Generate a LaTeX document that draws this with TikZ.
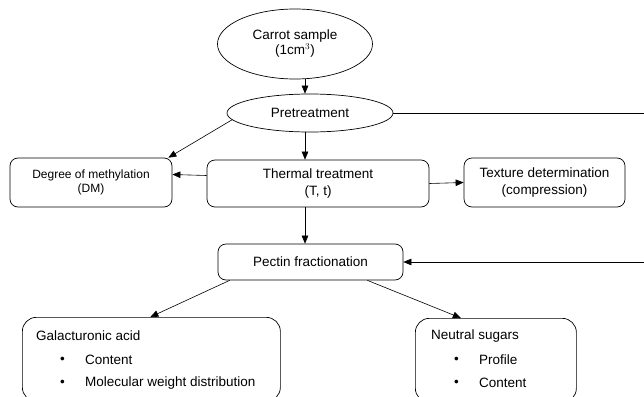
\documentclass[tikz,border=0pt]{standalone}
\usepackage{fontspec}
\setmainfont{Liberation Sans}
\usepackage{tikz}
\usetikzlibrary{
  arrows.meta,
  positioning,
  shapes.geometric
}
\tikzset{
  ovalbox/.style={draw, ellipse, line width=0.7pt, inner sep=0pt,
    align=center, font=\fontsize{13.5}{15}\selectfont},
  stepbox/.style={draw, rounded corners=8pt, line width=0.7pt,
    inner sep=0pt, align=center, font=\fontsize{13.5}{16.5}\selectfont},
  listbox/.style={draw, rounded corners=14pt, line width=0.7pt,
    inner sep=0pt, anchor=north west},
  itemtext/.style={anchor=west, inner sep=0pt, font=\fontsize{13.5}{15}\selectfont},
  arr/.style={-{Triangle[length=8pt, width=6.5pt]}, line width=0.6pt},
  ln/.style={line width=0.6pt},
}

\begin{document}
\begin{tikzpicture}[x=1pt, y=-1pt]
  \useasboundingbox (0,0) rectangle (644,396);

  % Sample and pretreatment
  \node[ovalbox, minimum width=155pt, minimum height=70pt] (carrot) at (295,44)
    {Carrot sample\\(1cm$^3$)};
  \node[ovalbox, minimum width=166pt, minimum height=38pt] (pre) at (310,113)
    {Pretreatment};
  \coordinate (spine) at (305,0);

  % Treatments
  \node[stepbox, minimum width=162pt, minimum height=49pt,
    font=\fontsize{12}{13.5}\selectfont] (dm) at (91,182.5)
    {Degree of methylation\\(DM)};
  \node[stepbox, minimum width=222pt, minimum height=47pt] (thermal) at (318,183.5)
    {Thermal treatment\\(T, t)};
  \node[stepbox, minimum width=161pt, minimum height=49pt] (texture) at (544.5,182.5)
    {Texture determination\\(compression)};
  \node[stepbox, minimum width=185pt, minimum height=36pt] (pectin) at (310.5,262)
    {Pectin fractionation};

  % Fractions
  \node[listbox, minimum width=258pt, minimum height=84pt] (gala) at (22,317) {};
  \node[itemtext] (galaTitle) at (36,336) {Galacturonic acid};
  \node[itemtext] (galaB1) at (60,360) {\textbullet};
  \node[itemtext] (galaI1) at (85,360) {Content};
  \node[itemtext] (galaB2) at (60,383) {\textbullet};
  \node[itemtext] (galaI2) at (85,383) {Molecular weight distribution};

  \node[listbox, minimum width=161pt, minimum height=84pt] (neut) at (415,318) {};
  \node[itemtext] (neutTitle) at (431,336) {Neutral sugars};
  \node[itemtext] (neutB1) at (454,360) {\textbullet};
  \node[itemtext] (neutI1) at (479,360) {Profile};
  \node[itemtext] (neutB2) at (454,383) {\textbullet};
  \node[itemtext] (neutI2) at (479,383) {Content};

  % Main flow
  \draw[arr] (carrot.south -| spine) -- (pre.north -| spine);
  \draw[arr] (pre.south -| spine) -- (thermal.north -| spine);
  \draw[arr] (thermal.south -| spine) -- (pectin.north -| spine);
  \draw[arr] (pre.185) -- ([xshift=-4pt]dm.north east);
  \draw[arr] ([yshift=8pt]thermal.west) -- ([yshift=8pt]dm.east);
  \draw[arr] (thermal.east) -- (texture.west);

  % Bypass from pretreatment
  \coordinate (byTop) at (660,113);
  \coordinate (byBot) at (660,262);
  \draw[ln] (pre.east) -- (byTop) -- (byBot);
  \draw[arr] (byBot) -- (pectin.east);

  % Fraction analysis
  \draw[arr] ([xshift=12pt]pectin.south west) -- ([xshift=-1pt]gala.north);
  \draw[arr] ([xshift=-36pt]pectin.south east) -- ([xshift=-35pt]neut.north);
\end{tikzpicture}
\end{document}
